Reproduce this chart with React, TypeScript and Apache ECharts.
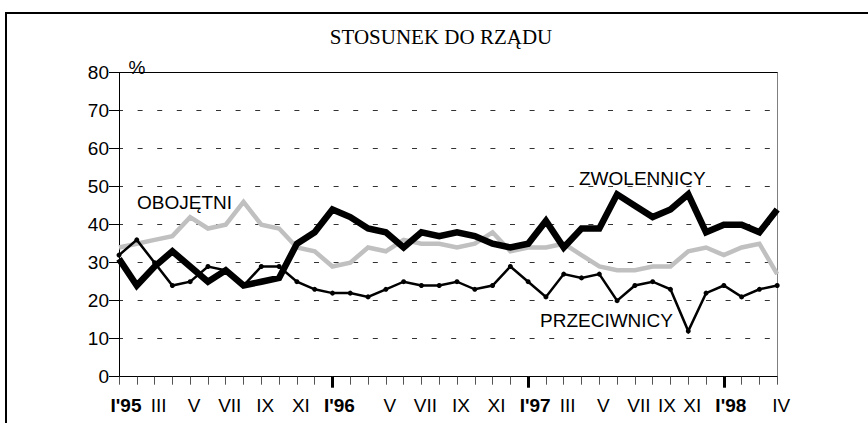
import React, { useEffect, useRef } from "react";
import * as echarts from "echarts";

const categories = [
  "I'95", "II'95", "III'95", "IV'95", "V'95", "VI'95", "VII'95", "VIII'95", "IX'95", "X'95", "XI'95", "XII'95",
  "I'96", "II'96", "III'96", "V'96", "VI'96", "VII'96", "VIII'96", "IX'96", "X'96", "XI'96", "XII'96",
  "I'97", "II'97", "III'97", "IV'97", "V'97", "VI'97", "VII'97", "VIII'97", "IX'97", "XI'97", "XII'97",
  "I'98", "II'98", "III'98", "IV'98",
];

const tickLabels = [
  "I'95", "", "III", "", "V", "", "VII", "", "IX", "", "XI", "",
  "I'96", "", "", "V", "", "VII", "", "IX", "", "XI", "",
  "I'97", "", "III", "", "V", "", "VII", "", "IX", "XI", "",
  "I'98", "", "", "IV",
];

const zwolennicy = [
  31, 24, 29, 33, 29, 25, 28, 24, 25, 26, 35, 38,
  44, 42, 39, 38, 34, 38, 37, 38, 37, 35, 34,
  35, 41, 34, 39, 39, 48, 45, 42, 44, 48, 38,
  40, 40, 38, 44,
];

const przeciwnicy = [
  32, 36, 30, 24, 25, 29, 28, 24, 29, 29, 25, 23,
  22, 22, 21, 23, 25, 24, 24, 25, 23, 24, 29,
  25, 21, 27, 26, 27, 20, 24, 25, 23, 12, 22,
  24, 21, 23, 24,
];

const obojetni = [
  34, 35, 36, 37, 42, 39, 40, 46, 40, 39, 34, 33,
  29, 30, 34, 33, 36, 35, 35, 34, 35, 38, 33,
  34, 34, 35, 32, 29, 28, 28, 29, 29, 33, 34,
  32, 34, 35, 27,
];

const seriesNames = ["ZWOLENNICY", "PRZECIWNICY", "OBOJĘTNI"];
const chartTitle = "STOSUNEK DO RZĄDU";
const unitLabel = "%";

const SANS = "'Liberation Sans', Arial, sans-serif";
const SERIF = "'Liberation Serif', 'Times New Roman', serif";
const FS = 19;

export default function App() {
  const ref = useRef<HTMLDivElement>(null);

  useEffect(() => {
    document.body.style.margin = "0";
    const chart = echarts.init(ref.current!, null, { renderer: "svg" });
    const isYear = (i: number) => i > 0 && tickLabels[i].includes("'");

    chart.setOption({
      animation: false,
      backgroundColor: "#ffffff",
      grid: { left: 119, right: 90.8, top: 72.7, bottom: 46.3, containLabel: false },
      xAxis: [
        {
          type: "category",
          data: categories,
          boundaryGap: false,
          axisLine: { show: true, lineStyle: { color: "#000", width: 1 } },
          axisTick: { show: true, interval: 0, length: 8, lineStyle: { color: "#555", width: 1 } },
          splitLine: { show: false },
          axisLabel: {
            interval: 0,
            margin: 19,
            color: "#000",
            fontFamily: SANS,
            fontSize: FS,
            formatter: (_v: string, i: number) => {
              const t = tickLabels[i];
              if (!t) return "";
              if (t.includes("'")) return `{b|${t}}`;
              if (i === 31) return `{l|${t}}`;
              return `{n|${t}}`;
            },
            rich: {
              b: { fontWeight: "bold", fontSize: FS, fontFamily: SANS, color: "#000", padding: [0, 0, 0, 14] },
              n: { fontSize: FS, fontFamily: SANS, color: "#000", padding: [0, 0, 0, 8] },
              l: { fontSize: FS, fontFamily: SANS, color: "#000", padding: [0, 7, 0, 0] },
            },
          },
        },
        {
          type: "category",
          data: categories,
          boundaryGap: false,
          position: "bottom",
          axisLine: { show: false },
          axisTick: {
            show: true,
            interval: (i: number) => isYear(i),
            length: 11,
            lineStyle: { color: "#000", width: 3 },
          },
          axisLabel: { show: false },
          splitLine: { show: false },
        },
        {
          type: "category",
          data: categories,
          boundaryGap: false,
          position: "top",
          axisLine: { show: true, lineStyle: { color: "#000", width: 1 } },
          axisTick: { show: false },
          axisLabel: { show: false },
          splitLine: { show: false },
        },
      ],
      yAxis: [
        {
          type: "value",
          min: 0,
          max: 80,
          interval: 10,
          axisLine: { show: true, lineStyle: { color: "#000", width: 1 } },
          axisTick: { show: true, length: 10, lineStyle: { color: "#000", width: 1 } },
          axisLabel: { margin: 10, color: "#000", fontFamily: SANS, fontSize: FS },
          splitLine: {
            show: true,
            lineStyle: { color: "#333", width: 1, type: [5, 14.6], dashOffset: 0.6 },
          },
        },
        {
          type: "value",
          min: 0,
          max: 80,
          interval: 10,
          position: "right",
          axisLine: { show: true, lineStyle: { color: "#808080", width: 1 } },
          axisTick: { show: false },
          axisLabel: { show: false },
          splitLine: { show: false },
        },
      ],
      series: [
        {
          name: seriesNames[2],
          type: "line",
          data: obojetni,
          symbol: "none",
          lineStyle: { color: "#c0c0c0", width: 4.5, join: "miter", miterLimit: 4 },
          z: 2,
        },
        {
          name: seriesNames[0],
          type: "line",
          data: zwolennicy,
          symbol: "none",
          lineStyle: { color: "#000", width: 6.5, join: "miter", miterLimit: 4 },
          z: 3,
        },
        {
          name: seriesNames[1],
          type: "line",
          data: przeciwnicy,
          symbol: "circle",
          symbolSize: 5,
          showSymbol: true,
          itemStyle: { color: "#000" },
          lineStyle: { color: "#000", width: 2.5, join: "miter", miterLimit: 4 },
          z: 4,
        },
      ],
      graphic: [
        {
          type: "rect",
          silent: true,
          shape: { x: 6, y: 13, width: 1000, height: 1000 },
          style: { fill: "none", stroke: "#000", lineWidth: 2 },
        },
        {
          type: "text",
          x: 441,
          y: 37,
          style: { text: chartTitle, fontFamily: SERIF, fontSize: 21, fill: "#000", align: "center", verticalAlign: "middle" },
        },
        {
          type: "text",
          x: 137,
          y: 67,
          style: { text: unitLabel, fontFamily: SANS, fontSize: FS, fill: "#000", align: "center", verticalAlign: "middle" },
        },
        {
          type: "text",
          x: 137,
          y: 202,
          style: { text: seriesNames[2], fontFamily: SANS, fontSize: FS, fill: "#000", align: "left", verticalAlign: "middle" },
        },
        {
          type: "text",
          x: 579,
          y: 178.5,
          style: { text: seriesNames[0], fontFamily: SANS, fontSize: FS, fill: "#000", align: "left", verticalAlign: "middle" },
        },
        {
          type: "text",
          x: 540,
          y: 320,
          style: { text: seriesNames[1], fontFamily: SANS, fontSize: FS, fill: "#000", align: "left", verticalAlign: "middle" },
        },
      ],
    });

    return () => chart.dispose();
  }, []);

  return <div ref={ref} style={{ width: 868, height: 423 }} />;
}
